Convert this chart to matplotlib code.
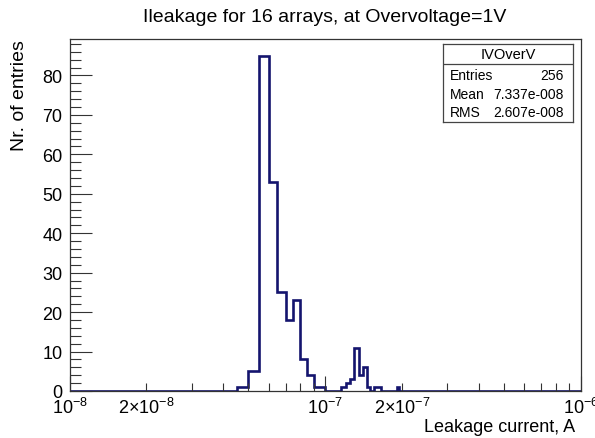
import numpy as np
import matplotlib
matplotlib.use('Agg')
import matplotlib.pyplot as plt
from matplotlib.ticker import FixedLocator, FuncFormatter

plt.rcParams['font.family'] = ['Liberation Sans', 'DejaVu Sans']
plt.rcParams['mathtext.fontset'] = 'custom'
plt.rcParams['mathtext.rm'] = 'Liberation Sans'
plt.rcParams['mathtext.it'] = 'Liberation Sans:italic'

# histogram: 5e-9 wide bins between 1e-8 and 1e-6 A
x_min = 1e-8
x_max = 1e-6
bin_width = 5e-9

# lower edges (in units of 1e-9 A) of the filled bins and their contents
filled_lo = [45, 50, 55, 60, 65, 70, 75, 80, 85, 90, 95,
             115, 120, 125, 130, 135, 140, 145, 155, 160, 190]
filled_n = [1, 5, 85, 53, 25, 18, 23, 8, 4, 1, 1,
            1, 2, 3, 11, 4, 6, 1, 1, 1, 1]

hist_name = 'IVOverV'
n_entries = 256
mean_str = '7.337e-008'
rms_str = '2.607e-008'

edges = np.arange(x_min, x_max + bin_width / 2, bin_width)
counts = np.zeros(len(edges) - 1)
for lo, n in zip(filled_lo, filled_n):
    counts[int(round((lo * 1e-9 - x_min) / bin_width))] = n

W, H = 595, 439
fig = plt.figure(figsize=(W / 100, H / 100), dpi=100)
ax = fig.add_axes([69.5 / W, 1 - 392 / H, (581 - 69.5) / W, (392 - 40) / H])

ax.stairs(counts, edges, color='#14146e', lw=1.9, baseline=0)

ax.set_xscale('log')
ax.set_xlim(x_min, x_max)
ax.set_ylim(0, 85 * 1.05)

# x axis: decades plus the "2x" positions labelled, like ROOT
ax.xaxis.set_major_locator(FixedLocator([1e-8, 1e-7, 1e-6]))
minors = [k * 10.0 ** e for e in (-8, -7) for k in range(2, 10)]
ax.xaxis.set_minor_locator(FixedLocator(minors))


def major_fmt(v, pos):
    return r'$10^{%d}$' % int(round(np.log10(v)))


def minor_fmt(v, pos):
    e = int(np.floor(np.log10(v) + 1e-9))
    k = v / 10.0 ** e
    if abs(k - 2) < 1e-6:
        return r'$2{\times}10^{%d}$' % e
    return ''


ax.xaxis.set_major_formatter(FuncFormatter(major_fmt))
ax.xaxis.set_minor_formatter(FuncFormatter(minor_fmt))

ax.set_yticks(np.arange(0, 81, 10))
ax.set_yticks(np.arange(0, 90, 2), minor=True)

ax.tick_params(axis='both', which='both', direction='in', top=False, right=False,
               labelsize=13, width=0.8, color='#333333')
ax.tick_params(axis='x', which='major', length=11, pad=4)
ax.tick_params(axis='x', which='minor', length=6, pad=4)
ax.tick_params(axis='y', which='major', length=16, pad=5)
ax.tick_params(axis='y', which='minor', length=8)

for s in ax.spines.values():
    s.set_linewidth(0.9)
    s.set_color('#333333')

ax.set_ylabel('Nr. of entries', loc='top', fontsize=14, labelpad=10)
ax.set_xlabel('Leakage current, A', loc='right', fontsize=13, labelpad=0)
ax.xaxis.set_label_coords(575 / W, 0, transform=fig.transFigure)
ax.xaxis.label.set_position((575 / W, 0))
ax.xaxis.label.set_va('bottom')
ax.xaxis.label.set_y(3 / H)

fig.text(325 / W, 1 - 17 / H, 'Ileakage for 16 arrays, at Overvoltage=1V',
         ha='center', va='center', fontsize=14)

# statistics box
bx = fig.add_axes([443 / W, 1 - 123 / H, (573 - 443) / W, (123 - 45) / H])
bx.set_xticks([])
bx.set_yticks([])
bx.set_xlim(0, 1)
bx.set_ylim(0, 1)
for s in bx.spines.values():
    s.set_linewidth(0.9)
    s.set_color('#444444')
bx.axhline(0.745, color='#444444', lw=0.9)
bx.text(0.5, 0.87, hist_name, ha='center', va='center', fontsize=10.5)
rows = [('Entries', str(n_entries)), ('Mean', mean_str), ('RMS', rms_str)]
for (name, val), yy in zip(rows, [0.60, 0.365, 0.13]):
    bx.text(0.05, yy, name, ha='left', va='center', fontsize=10)
    bx.text(0.93, yy, val, ha='right', va='center', fontsize=10)

fig.savefig('out.png', dpi=100)
